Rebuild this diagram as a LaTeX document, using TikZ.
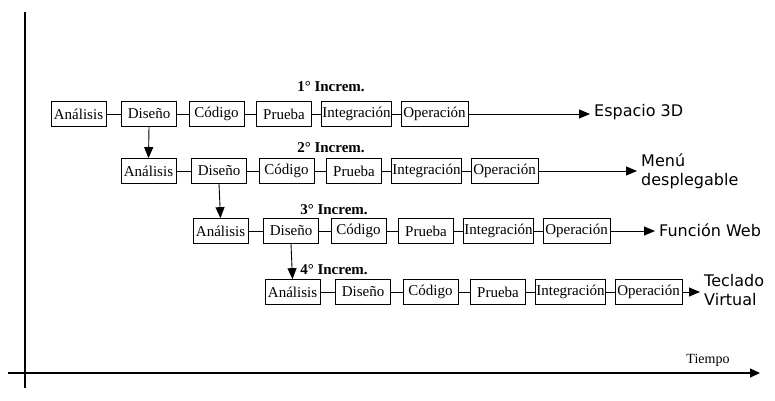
\documentclass[tikz,border=0pt]{standalone}
\usepackage{fontspec}
\setmainfont{Liberation Serif}
\newfontfamily\labelfont{DejaVu Sans}
\usetikzlibrary{positioning}
\usetikzlibrary{arrows.meta}

\begin{document}
\begin{tikzpicture}[x=1pt,y=-1pt]

          \tikzstyle{stageNode} = [draw, line width=0.7pt, minimum width=55pt, minimum height=25pt, inner sep=1pt, font=\fontsize{15}{17}\selectfont];
          \tikzstyle{wideNode} = [stageNode, minimum width=67pt];
          \tikzstyle{incremNode} = [font=\fontsize{15}{17}\selectfont\bfseries];
          \tikzstyle{resultNode} = [anchor=west, align=left, inner sep=4pt, font=\fontsize{16}{19}\selectfont\labelfont];

          \tikzstyle{normalEdge} = [line width=0.7pt];
          \tikzstyle{arrowEdge} = [line width=0.9pt, -{Triangle[length=11pt,width=9pt]}];
          \tikzstyle{axisEdge} = [line width=1.2pt];

          \useasboundingbox (0,0) rectangle (775,400);

          % axes
          \coordinate (ytop) at (25,12);
          \coordinate (ybottom) at (25,388);
          \coordinate (xleft) at (8,373);
          \coordinate (xright) at (760,373);
          \node[font=\fontsize{14}{16}\selectfont] (tiempo) at (708,360) {Tiempo};

          % 1st increment
          \node[incremNode] (inc1) at (331,87) {1° Increm.};
          \node[stageNode] (analisis1) at (78.5,114) {Análisis};
          \node[stageNode] (diseno1) at (149,114) {Diseño};
          \node[stageNode] (codigo1) at (216.5,114) {Código};
          \node[stageNode] (prueba1) at (284,114) {Prueba};
          \node[wideNode] (integ1) at (356.5,114) {Integración};
          \node[wideNode] (oper1) at (434.5,114) {Operación};
          \node[resultNode] (res1) at (590,112) {Espacio 3D};

          % 2nd increment
          \node[incremNode] (inc2) at (331,148) {2° Increm.};
          \node[stageNode] (analisis2) at (148.5,171) {Análisis};
          \node[stageNode] (diseno2) at (219,171) {Diseño};
          \node[stageNode] (codigo2) at (286.5,171) {Código};
          \node[stageNode] (prueba2) at (354,171) {Prueba};
          \node[wideNode] (integ2) at (426.5,171) {Integración};
          \node[wideNode] (oper2) at (504.5,171) {Operación};
          \node[resultNode] (res2) at (637,171) {Menú\\desplegable};

          % 3rd increment
          \node[incremNode] (inc3) at (334,210) {3° Increm.};
          \node[stageNode] (analisis3) at (220.5,231) {Análisis};
          \node[stageNode] (diseno3) at (291,231) {Diseño};
          \node[stageNode] (codigo3) at (358.5,231) {Código};
          \node[stageNode] (prueba3) at (426,231) {Prueba};
          \node[wideNode] (integ3) at (498.5,231) {Integración};
          \node[wideNode] (oper3) at (576.5,231) {Operación};
          \node[resultNode] (res3) at (655,230) {Función Web};

          % 4th increment
          \node[incremNode] (inc4) at (334,270) {4° Increm.};
          \node[stageNode] (analisis4) at (292.5,292) {Análisis};
          \node[stageNode] (diseno4) at (363,292) {Diseño};
          \node[stageNode] (codigo4) at (430.5,292) {Código};
          \node[stageNode] (prueba4) at (498,292) {Prueba};
          \node[wideNode] (integ4) at (570.5,292) {Integración};
          \node[wideNode] (oper4) at (648.5,292) {Operación};
          \node[resultNode] (res4) at (700,290) {Teclado\\Virtual};

          \draw[axisEdge] (ybottom) -- (ytop);
          \draw[axisEdge, -{Triangle[length=10pt,width=9pt]}] (xleft) -- (xright);

          \draw[normalEdge] (analisis1) -- (diseno1);
          \draw[normalEdge] (diseno1) -- (codigo1);
          \draw[normalEdge] (codigo1) -- (prueba1);
          \draw[normalEdge] (prueba1) -- (integ1);
          \draw[normalEdge] (integ1) -- (oper1);
          \draw[arrowEdge] (oper1) -- (oper1 -| res1.west);

          \draw[normalEdge] (analisis2) -- (diseno2);
          \draw[normalEdge] (diseno2) -- (codigo2);
          \draw[normalEdge] (codigo2) -- (prueba2);
          \draw[normalEdge] (prueba2) -- (integ2);
          \draw[normalEdge] (integ2) -- (oper2);
          \draw[arrowEdge] (oper2) -- (oper2 -| res2.west);

          \draw[normalEdge] (analisis3) -- (diseno3);
          \draw[normalEdge] (diseno3) -- (codigo3);
          \draw[normalEdge] (codigo3) -- (prueba3);
          \draw[normalEdge] (prueba3) -- (integ3);
          \draw[normalEdge] (integ3) -- (oper3);
          \draw[arrowEdge] (oper3) -- (oper3 -| res3.west);

          \draw[normalEdge] (analisis4) -- (diseno4);
          \draw[normalEdge] (diseno4) -- (codigo4);
          \draw[normalEdge] (codigo4) -- (prueba4);
          \draw[normalEdge] (prueba4) -- (integ4);
          \draw[normalEdge] (integ4) -- (oper4);
          \draw[arrowEdge] (oper4) -- (oper4 -| res4.west);

          \draw[arrowEdge] (diseno1.south) -- (analisis2.north);
          \draw[arrowEdge] (diseno2.south) -- (analisis3.north);
          \draw[arrowEdge] (diseno3.south) -- (analisis4.north);
        \end{tikzpicture}
\end{document}
